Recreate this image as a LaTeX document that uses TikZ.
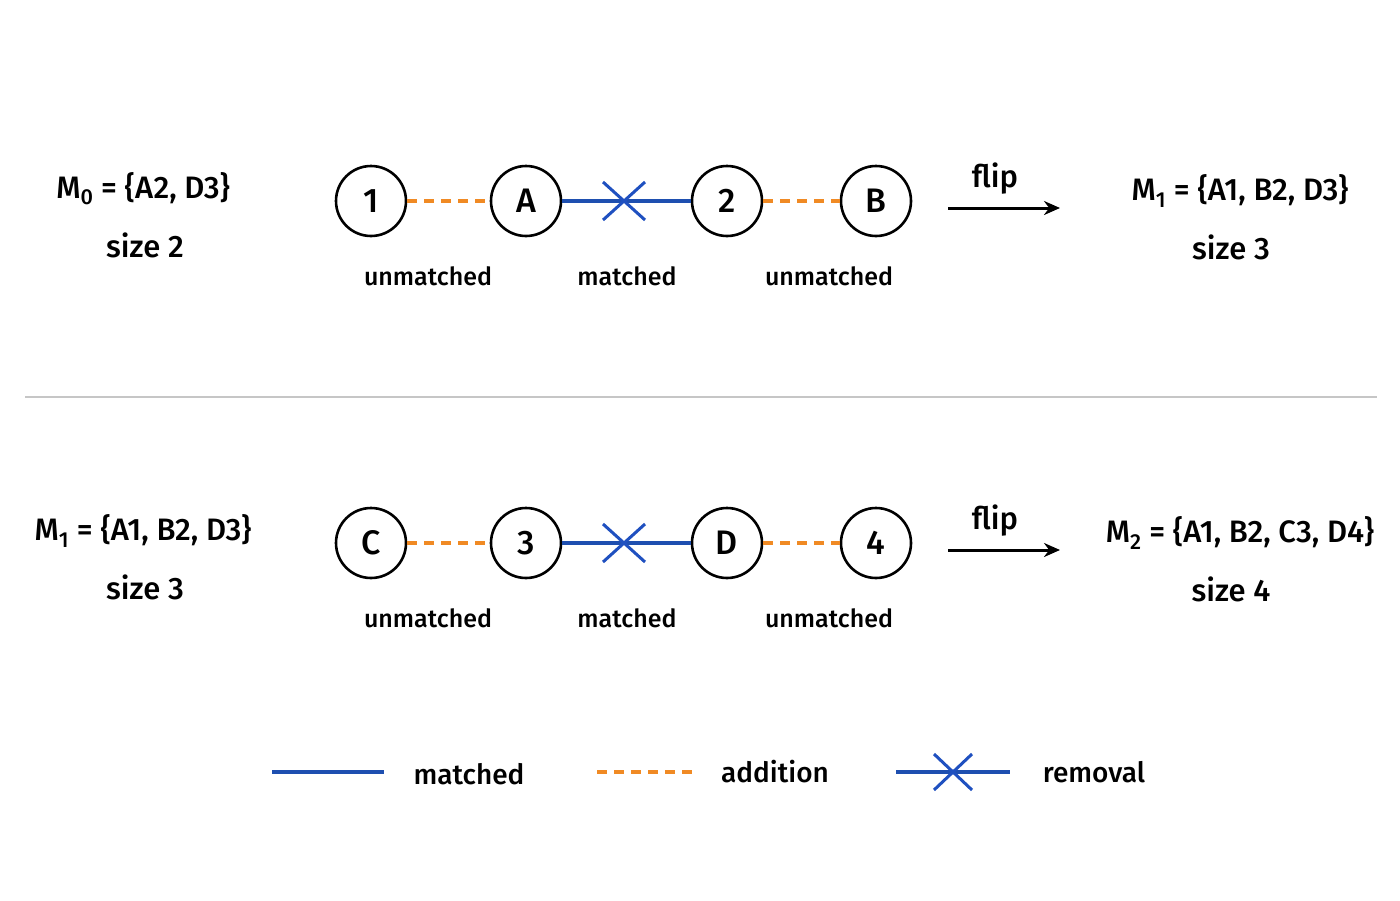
\documentclass[tikz,border=0pt]{standalone}
\usepackage{fontspec}
\usetikzlibrary{arrows.meta}
\setmainfont{Fira Sans}[UprightFont=* Medium]
\definecolor{bl}{HTML}{1E4FB0}
\definecolor{bx}{HTML}{1F50C0}
\definecolor{og}{HTML}{F08A24}
\newcommand{\sbs}[1]{\textsubscript{#1}}
\begin{document}
\begin{tikzpicture}[x=1pt,y=-1pt,
 v/.style={circle,draw,line width=2.6pt,minimum size=70pt,inner sep=0pt,font=\fontsize{34}{38}\selectfont},
 lab/.style={font=\fontsize{25}{28}\selectfont},
 big/.style={font=\fontsize{31}{34}\selectfont},
 add/.style={draw=og,line width=4pt,dash pattern=on 10pt off 7pt},
 mat/.style={draw=bl,line width=4.5pt},
 xm/.style={draw=bx,line width=3pt}]
\fill[white] (0,0) rectangle (1400,900);
\foreach \r/\y/\a/\b/\c/\d/\L/\S/\R/\T in {1/201/1/A/2/B/{M\sbs{0} = \{A2, D3\}}/size 2/{M\sbs{1} = \{A1, B2, D3\}}/size 3,
 2/543/C/3/D/4/{M\sbs{1} = \{A1, B2, D3\}}/size 3/{M\sbs{2} = \{A1, B2, C3, D4\}}/size 4}{
 \node[v] (p\r) at (371,\y) {\a};
 \node[v] (q\r) at (526,\y) {\b};
 \node[v] (s\r) at (727,\y) {\c};
 \node[v] (t\r) at (876,\y) {\d};
 \draw[add] (p\r) -- (q\r);
 \draw[add] (s\r) -- (t\r);
 \draw[mat] (q\r) -- (s\r);
 \coordinate (x\r) at (624,\y);
 \draw[xm] ([shift={(-21,-19)}]x\r) -- ([shift={(21,19)}]x\r);
 \draw[xm] ([shift={(-21,19)}]x\r) -- ([shift={(21,-19)}]x\r);
 \node[lab] (u\r) at (428,\y+75) {unmatched};
 \node[lab] (m\r) at (627,\y+75) {matched};
 \node[lab] (w\r) at (829,\y+75) {unmatched};
 \node[big] (L\r) at (143,\y-12) {\L};
 \node[big] (S\r) at (145,\y+44) {\S};
 \node[big] (R\r) at (1240,\y-10) {\R};
 \node[big] (T\r) at (1231,\y+46) {\T};
 \node[big] (f\r) at (995,\y-22) {flip};
 \coordinate (a\r) at (948,\y+7);
 \coordinate (b\r) at (1060,\y+7);
 \draw[line width=3pt,-{Stealth[length=16pt,width=14pt]}] (a\r) -- (b\r);
}
\draw[gray!45,line width=2.5pt] (25,397) -- (1377,397);
\coordinate (l1) at (272,772); \coordinate (l2) at (384,772);
\draw[mat] (l1) -- (l2);
\node[big,font=\fontsize{28}{32}\selectfont] (k1) at (469,774) {matched};
\coordinate (l3) at (597,772); \coordinate (l4) at (698,772);
\draw[add] (l3) -- (l4);
\node[big,font=\fontsize{28}{32}\selectfont] (k2) at (775,772) {addition};
\coordinate (l5) at (896,772); \coordinate (l6) at (1010,772);
\draw[mat] (l5) -- (l6);
\coordinate (lx) at (953,772);
\draw[xm] ([shift={(-19,-18)}]lx) -- ([shift={(19,18)}]lx);
\draw[xm] ([shift={(-19,18)}]lx) -- ([shift={(19,-18)}]lx);
\node[big,font=\fontsize{28}{32}\selectfont] (k3) at (1094,772) {removal};
\end{tikzpicture}
\end{document}
